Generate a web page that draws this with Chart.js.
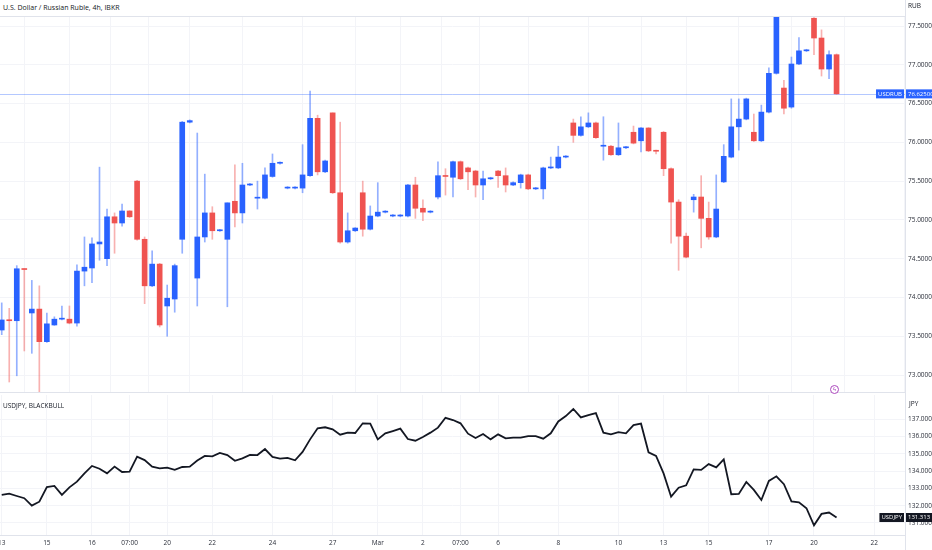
<!DOCTYPE html>
<html>
<head>
<meta charset="utf-8">
<title>USDRUB vs USDJPY</title>
<script src="https://cdn.jsdelivr.net/npm/chart.js@4.4.1/dist/chart.umd.min.js"></script>
<style>
  html, body { margin: 0; padding: 0; background: #fff; }
  #wrap { position: relative; width: 932px; height: 550px; overflow: hidden; font-family: 'Open Sans', sans-serif; color: #131722; }
  canvas { position: absolute; left: 0; }
  #topChart { top: 16px; }
  #lowChart { top: 393px; }
  .hline { position: absolute; left: 0; width: 905px; height: 1px; background: #e0e3eb; }
  .vline { position: absolute; left: 905px; top: 0; width: 1px; height: 550px; background: #e0e3eb; }
  .lbl { position: absolute; font-size: 7px; line-height: 10px; white-space: nowrap; color: #131722; }
  .narrow { font-family: 'Liberation Sans Narrow', 'Open Sans', sans-serif; font-size: 6.5px; }
  .events { position: absolute; left: 830px; top: 385px; width: 9px; height: 9px; border: 1px solid #ab47bc; border-radius: 50%;
            box-sizing: border-box; font-size: 6px; line-height: 7px; text-align: center; color: #ab47bc; background: #fff; }
</style>
</head>
<body>
<div id="wrap">
  <canvas id="topChart" width="932" height="376"></canvas>
  <canvas id="lowChart" width="932" height="157"></canvas>
  <div class="hline" style="top:16px"></div>
  <div class="hline" style="top:392px"></div>
  <div class="hline" style="top:535px"></div>
  <div class="vline"></div>
  <div class="lbl" style="left:3px; top:3px">U.S. Dollar / Russian Ruble, 4h, IBKR</div>
  <div class="lbl narrow" style="left:908px; top:1px">RUB</div>
  <div class="lbl narrow" style="left:3px; top:401px">USDJPY, BLACKBULL</div>
  <div class="lbl narrow" style="left:909px; top:399px">JPY</div>
  <div class="events">ϟ</div>
</div>
<script>
// USD/RUB 4h candles (IBKR)
var opens  = [73.58,73.71,73.70,74.37,73.80,73.85,73.43,73.645,73.72,73.72,73.67,74.34,74.38,74.69,74.50,75.04,74.96,75.115,75.50,74.75,
              74.15,74.43,73.89,73.98,74.75,76.26,74.25,74.78,75.09,74.86,74.75,75.24,75.09,75.45,75.28,75.28,75.56,75.73,75.41,75.41,
              75.41,75.57,76.31,75.62,76.38,75.35,74.715,74.86,75.35,74.88,75.05,75.10,75.05,75.05,75.05,75.45,75.15,75.10,75.295,75.57,
              75.55,75.75,75.67,75.63,75.45,75.53,75.63,75.57,75.45,75.48,75.58,75.40,75.40,75.67,75.67,75.81,76.25,76.09,76.20,76.25,
              75.95,75.95,75.84,75.93,76.13,76.02,76.185,75.89,76.13,75.66,75.23,74.79,75.26,75.295,75.02,74.78,75.49,75.81,76.20,76.30,
              76.13,76.02,76.39,76.89,76.70,76.455,77.01,77.18,77.60,77.345,76.945,77.13];
var highs  = [73.93,73.86,74.41,74.37,74.22,74.15,73.80,73.75,73.89,73.89,74.42,74.78,74.77,75.68,75.14,75.09,75.205,75.12,75.51,74.78,
              74.60,74.44,74.16,74.43,76.27,76.29,76.12,75.59,75.17,74.88,75.22,75.71,75.73,75.47,75.50,75.67,75.85,75.75,75.43,75.43,
              75.97,76.66,76.35,75.77,76.38,76.26,75.09,74.90,75.50,75.18,75.48,75.12,75.07,75.07,75.46,75.55,75.26,75.12,75.75,75.66,
              75.76,75.76,75.68,75.64,75.63,75.55,75.64,75.67,75.49,75.59,75.59,75.42,75.68,75.81,75.95,75.83,76.30,76.33,76.38,76.26,
              76.33,75.96,76.25,75.95,76.21,76.19,76.19,75.90,76.14,75.67,75.26,74.83,75.33,75.57,75.23,75.58,75.97,76.56,76.56,76.57,
              76.365,76.48,76.96,77.70,76.80,77.10,77.35,77.20,77.61,77.45,77.18,77.14];
var lows   = [73.52,72.91,72.99,73.31,73.28,72.78,73.42,73.64,73.71,73.66,73.63,74.15,74.19,74.48,74.41,74.57,74.92,75.03,74.74,73.92,
              74.14,73.62,73.50,73.81,74.57,76.25,73.89,74.715,74.75,74.85,73.88,74.91,74.96,75.44,75.14,75.27,75.55,75.72,75.40,75.40,
              75.35,75.56,75.58,75.61,75.34,74.70,74.70,74.85,74.79,74.87,75.04,75.09,75.04,75.04,75.04,75.02,74.99,75.09,75.27,75.32,
              75.295,75.52,75.39,75.295,75.26,75.52,75.42,75.36,75.44,75.41,75.39,75.39,75.27,75.66,75.66,75.80,76.00,76.08,76.19,76.05,
              75.77,75.83,75.83,75.92,75.98,75.875,75.88,75.85,75.57,74.70,74.35,74.51,75.10,74.64,74.75,74.77,75.48,75.80,75.90,76.29,
              76.01,76.01,76.38,76.88,76.365,76.44,77.00,77.17,77.13,76.855,76.82,76.62];
var closes = [73.71,73.70,74.37,74.36,73.85,73.43,73.66,73.72,73.73,73.67,74.34,74.39,74.69,74.715,75.04,74.96,75.115,75.04,74.75,74.15,
              74.43,73.645,73.99,74.41,76.26,76.28,74.78,75.09,74.86,74.87,75.22,75.09,75.45,75.46,75.29,75.58,75.73,75.74,75.42,75.42,
              75.58,76.31,75.62,75.76,75.35,74.715,74.86,74.895,74.88,75.05,75.10,75.11,75.06,75.06,75.45,75.15,75.10,75.11,75.57,75.56,
              75.75,75.53,75.62,75.45,75.53,75.54,75.57,75.45,75.48,75.58,75.40,75.41,75.67,75.68,75.81,75.82,76.09,76.20,76.25,76.06,
              75.96,75.84,75.93,75.94,75.99,76.185,75.89,75.885,75.66,75.23,74.79,74.52,75.295,75.02,74.78,75.14,75.82,76.20,76.30,76.56,
              76.02,76.39,76.89,77.65,76.44,77.01,77.18,77.19,77.345,76.945,77.13,76.625];

// USD/JPY close, same bars (BLACKBULL)
var jpy = [132.62,132.70,132.56,132.43,132.00,132.23,133.08,133.14,132.62,133.06,133.39,133.87,134.30,134.14,133.87,134.26,133.95,133.97,134.84,134.64,
           134.26,134.16,134.20,134.07,134.24,134.26,134.61,134.88,134.86,135.05,134.93,134.60,134.74,134.94,134.93,135.28,134.82,134.72,134.77,134.63,
           135.11,135.84,136.48,136.54,136.42,136.11,136.23,136.21,136.77,136.75,135.84,136.19,136.32,136.46,135.86,135.76,135.98,136.23,136.52,137.09,
           136.96,136.77,136.17,135.92,136.15,135.84,136.13,135.90,135.94,135.94,136.03,136.03,135.88,136.19,136.88,137.19,137.60,137.11,137.25,137.36,
           136.23,136.13,136.26,136.19,136.67,136.75,135.09,134.88,133.87,132.52,133.04,133.18,134.10,134.07,134.41,134.22,134.68,132.66,132.68,133.37,
           132.91,132.33,133.43,133.70,133.24,132.25,132.19,131.85,130.86,131.52,131.60,131.313];

// time axis: bar index of each label
var tickIdx  = [0, 6, 12, 17, 22, 28, 36, 44, 50, 56, 61, 66, 74, 82, 88, 94, 102, 108, 116];
var tickText = ["13","15","16","07:00","20","22","24","27","Mar","2","07:00","6","8","10","13","15","17","20","22"];
var rubTicks = [73.0, 73.5, 74.0, 74.5, 75.0, 75.5, 76.0, 76.5, 77.0, 77.5];
var jpyTicks = [131, 132, 133, 134, 135, 136, 137];

var UP = '#2962ff', DOWN = '#ef5350';
var UP_WICK = 'rgba(41,98,255,0.5)', DOWN_WICK = 'rgba(239,83,80,0.45)';
var GRID = '#f3f4f8';
var NARROW = "'Liberation Sans Narrow', 'Open Sans', sans-serif";

Chart.defaults.font.family = NARROW;
Chart.defaults.font.size = 6.5;
Chart.defaults.color = '#131722';

function isUp(i) { return closes[i] >= opens[i]; }

var priceTag = {
    id: 'priceTag',
    beforeDatasetsDraw: function(chart, args, opts) {
        if (!opts.line) return;
        var a = chart.chartArea;
        var y = Math.round(chart.scales.y.getPixelForValue(opts.value)) + 0.5;
        var ctx = chart.ctx;
        ctx.save();
        ctx.strokeStyle = opts.line;
        ctx.lineWidth = 1;
        ctx.beginPath();
        ctx.moveTo(a.left, y);
        ctx.lineTo(a.right, y);
        ctx.stroke();
        ctx.restore();
    },
    afterDraw: function(chart, args, opts) {
        var a = chart.chartArea;
        var y = chart.scales.y.getPixelForValue(opts.value);
        var ctx = chart.ctx;
        ctx.save();
        ctx.font = "6px " + NARROW;
        ctx.textBaseline = 'middle';
        var nw = ctx.measureText(opts.name).width + 4;
        var vw = ctx.measureText(opts.text).width + 4;
        ctx.fillStyle = opts.bg;
        ctx.fillRect(a.right - nw - 1, y - 4.5, nw, 9);
        ctx.fillRect(a.right + 1, y - 4.5, vw, 9);
        ctx.fillStyle = '#fff';
        ctx.fillText(opts.name, a.right - nw + 1, y);
        ctx.fillText(opts.text, a.right + 3, y);
        ctx.restore();
    }
};

function xScale(showLabels) {
    return {
        type: 'linear', min: -0.23, max: 120.1, offset: false,
        grid: { color: GRID, drawTicks: false },
        border: { display: false },
        ticks: {
            display: showLabels, autoSkip: false, maxRotation: 0, padding: 4, color: '#2a2e39',
            callback: function(v) { var k = tickIdx.indexOf(v); return k >= 0 ? tickText[k] : ''; }
        },
        afterBuildTicks: function(s) { s.ticks = tickIdx.map(function(v) { return { value: v }; }); },
        afterFit: function(s) { s.height = showLabels ? 15 : 0; s.paddingLeft = 0; s.paddingRight = 0; }
    };
}

function yScale(min, max, list, digits) {
    return {
        position: 'right', min: min, max: max,
        grid: { color: GRID, drawTicks: false },
        border: { display: false },
        ticks: { padding: 3, color: '#2a2e39', callback: function(v) { return v.toFixed(digits); } },
        afterBuildTicks: function(s) { s.ticks = list.map(function(v) { return { value: v }; }); },
        afterFit: function(s) { s.width = 27; s.paddingTop = 0; s.paddingBottom = 0; }
    };
}

new Chart(document.getElementById('topChart'), {
    type: 'bar',
    data: {
        datasets: [{
            label: 'body',
            data: opens.map(function(o, i) { return { x: i, y: [o, closes[i]] }; }),
            backgroundColor: function(c) { return isUp(c.dataIndex) ? UP : DOWN; },
            barThickness: 5, minBarLength: 1, grouped: false, borderWidth: 0
        }, {
            label: 'wick',
            data: lows.map(function(l, i) { return { x: i, y: [l, highs[i]] }; }),
            backgroundColor: function(c) { return isUp(c.dataIndex) ? UP_WICK : DOWN_WICK; },
            barThickness: 1, grouped: false, borderWidth: 0
        }]
    },
    options: {
        responsive: false, animation: false,
        layout: { padding: 0 },
        plugins: {
            legend: { display: false }, tooltip: { enabled: false },
            priceTag: { value: closes[closes.length - 1], text: closes[closes.length - 1].toFixed(5),
                        name: 'USDRUB', bg: UP, line: 'rgba(41,98,255,0.35)' }
        },
        scales: { x: xScale(false), y: yScale(72.781, 77.629, rubTicks, 5) }
    },
    plugins: [priceTag]
});

new Chart(document.getElementById('lowChart'), {
    type: 'line',
    data: {
        datasets: [{
            label: 'USDJPY',
            data: jpy.map(function(v, i) { return { x: i, y: v }; }),
            borderColor: '#131722', borderWidth: 1.8, pointRadius: 0, tension: 0, fill: false
        }]
    },
    options: {
        responsive: false, animation: false,
        layout: { padding: { top: 2 } },
        plugins: {
            legend: { display: false }, tooltip: { enabled: false },
            priceTag: { value: jpy[jpy.length - 1], text: jpy[jpy.length - 1].toFixed(3), name: 'USDJPY', bg: '#131722' }
        },
        scales: { x: xScale(true), y: yScale(130.30, 138.41, jpyTicks, 3) }
    },
    plugins: [priceTag]
});
</script>
</body>
</html>
